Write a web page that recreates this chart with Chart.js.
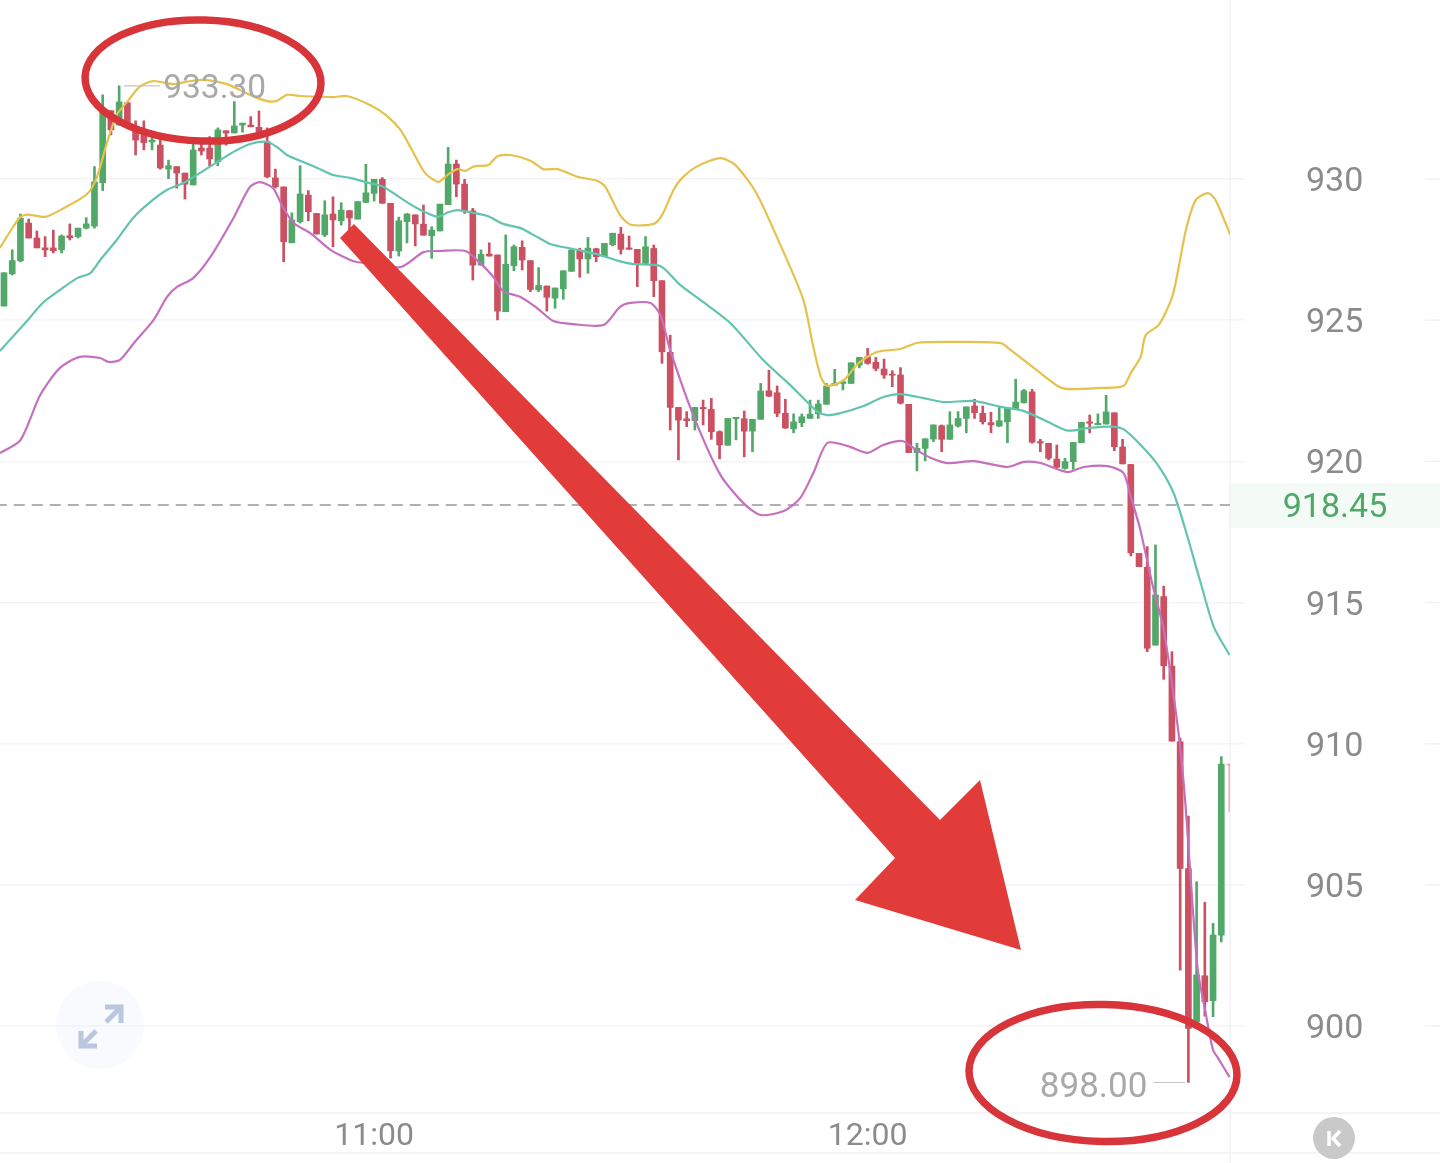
<!DOCTYPE html>
<html>
<head>
<meta charset="utf-8">
<title>K线</title>
<script src="https://cdn.jsdelivr.net/npm/chart.js@4"></script>
<style>
  html, body { margin: 0; padding: 0; background: #fff; }
  canvas { display: block; }
</style>
</head>
<body>
<canvas id="chart" width="1440" height="1163"></canvas>
<script>
// one minute candles, index 0 is the first one on screen
const opens = [925.50,926.64,927.10,928.44,927.91,927.56,927.56,927.49,927.99,927.96,928.26,928.33,929.87,932.42,931.91,932.70,931.85,931.64,931.31,931.20,
  930.35,930.44,930.21,929.79,931.10,931.10,930.61,931.71,931.63,931.91,931.91,931.83,931.32,930.04,929.72,927.74,928.49,929.43,928.78,928.02,
  928.76,928.52,928.88,928.58,929.17,929.49,929.99,929.14,927.45,928.49,928.73,928.40,927.99,928.16,929.09,930.53,929.82,928.87,926.95,927.34,
  927.31,925.30,926.93,927.58,927.11,926.07,926.21,925.78,926.11,926.73,927.46,927.17,927.53,927.25,927.67,928.05,927.56,927.51,927.01,927.54,
  926.40,923.86,921.91,921.51,921.44,921.91,921.84,921.05,920.57,921.51,921.51,921.07,921.49,922.50,922.43,921.70,921.15,921.37,921.52,921.68,
  922.02,922.70,922.76,922.76,923.41,923.70,923.51,923.27,923.09,923.06,922.02,920.31,920.46,920.79,921.26,920.78,921.25,921.52,921.96,921.70,
  921.37,921.25,921.40,921.84,922.08,922.46,920.70,920.64,920.08,919.75,919.99,920.66,921.40,921.30,921.32,921.72,920.51,919.89,916.74,916.25,
  913.49,915.21,912.75,910.07,905.58,900.15,901.78,900.90,903.22,909.28];
const highs = [926.68,927.49,928.76,928.58,928.16,927.96,928.19,928.02,928.41,928.26,928.63,930.44,932.98,932.42,933.30,932.73,932.06,932.06,931.67,931.59,
  930.67,930.44,930.21,931.32,931.27,931.50,931.81,931.71,932.74,931.98,932.21,932.41,931.81,930.35,929.72,928.80,930.47,929.59,928.78,929.23,
  929.37,929.16,928.88,929.20,930.52,929.99,930.05,929.14,928.65,928.78,928.73,929.08,928.31,929.11,931.12,930.67,929.99,928.96,927.49,927.74,
  927.31,928.02,927.66,927.81,927.11,926.86,926.21,926.14,926.75,927.49,927.55,927.93,927.55,927.72,928.08,928.29,927.98,927.51,927.96,927.66,
  926.40,924.47,921.91,921.76,921.91,922.17,922.23,921.08,921.52,921.56,921.78,921.49,922.76,923.23,922.67,922.20,921.68,921.68,922.17,922.17,
  922.76,923.26,922.88,923.49,923.68,924.00,923.68,923.62,923.21,923.32,922.02,920.64,920.80,921.29,921.29,921.76,921.76,921.93,922.20,921.96,
  921.74,921.91,921.88,922.91,922.55,922.55,920.78,920.64,920.58,920.11,920.67,921.38,921.64,921.68,922.34,921.72,920.78,919.89,916.74,916.98,
  917.04,915.58,913.26,910.20,907.44,905.11,904.38,903.64,909.54,909.28];
const lows = [925.50,926.60,927.07,927.91,927.56,927.25,927.38,927.38,927.84,927.91,928.23,928.26,929.59,931.56,931.91,931.88,930.85,931.03,931.03,930.35,
  930.01,929.68,929.29,929.79,930.85,930.47,930.47,931.20,931.63,931.66,931.85,931.66,930.04,929.68,927.07,927.74,928.44,928.52,928.05,927.96,
  927.60,928.37,928.19,928.58,929.17,929.22,929.14,927.20,927.27,927.74,927.63,928.01,927.19,928.16,929.09,929.37,928.78,926.42,926.95,927.27,
  925.01,925.30,926.75,926.78,926.01,926.01,925.32,925.42,925.74,926.73,926.52,926.66,927.07,927.25,927.63,927.34,927.51,926.19,926.99,925.83,
  923.47,921.11,920.05,921.23,921.11,921.29,920.78,920.09,920.57,920.76,920.16,920.34,921.49,922.29,921.58,921.17,921.01,921.23,921.52,921.52,
  922.02,922.70,922.53,922.76,923.31,923.44,923.21,922.94,922.64,922.03,920.31,919.66,920.02,920.70,920.34,920.78,921.21,921.01,921.52,921.32,
  921.01,921.23,920.66,921.84,922.06,920.64,920.34,920.05,919.75,919.72,919.72,920.66,921.01,921.29,921.32,920.38,919.91,916.65,916.27,913.26,
  913.49,912.28,910.09,901.98,898.00,900.15,900.35,900.33,902.98,907.58];
const closes = [926.68,927.11,928.61,927.91,927.56,927.49,927.46,927.98,927.92,928.26,928.41,929.90,932.42,931.74,932.73,931.88,931.38,931.29,931.38,930.39,
  930.47,930.21,929.82,931.03,930.99,930.71,931.74,931.63,931.88,931.98,931.85,931.66,930.08,929.73,927.78,928.55,929.47,928.84,928.05,928.73,
  928.55,928.90,928.62,929.20,929.51,929.99,929.14,927.46,928.52,928.76,928.41,928.01,928.19,929.11,930.53,929.82,928.87,926.95,927.33,927.27,
  925.32,926.98,927.60,927.13,926.09,926.23,925.81,926.14,926.75,927.49,927.17,927.55,927.25,927.72,928.08,927.51,927.51,927.01,927.60,926.40,
  923.88,921.91,921.46,921.44,921.91,921.86,921.05,920.58,921.52,921.56,921.07,921.49,922.49,922.31,921.70,921.18,921.40,921.58,921.67,922.03,
  922.67,922.76,922.82,923.49,923.68,923.47,923.29,923.06,923.05,922.06,920.31,920.46,920.80,921.29,920.78,921.29,921.52,921.93,921.72,921.40,
  921.29,921.44,921.88,922.10,922.50,920.68,920.65,920.11,919.79,919.99,920.67,921.38,921.35,921.35,921.75,920.52,919.91,916.76,916.27,913.38,
  915.27,912.76,910.09,905.58,899.92,901.81,900.86,903.22,909.28,909.24];

// band lines, read at the candle index they sit over
const upperAt = [-0.5,1.1,2,2.9,5,7.1,10.1,11.3,12.5,13.7,15,16.5,18.1,20.6,22.3,24.2,27.1,29.9,32,33.2,34.4,36,40,41.7,44.5,46.4,48.2,49.6,51.2,52.8,53.9,55.1,56.1,57.1,58.9,60,61.6,64,65.6,67.3,69.7,72.1,73.1,74.9,76.2,79,80,81.4,82.2,84.1,87.1,88.9,91.4,94.4,97.2,98.3,99.3,100.1,102.1,103.9,106.2,109,111.1,115.1,121.2,122.4,125.2,128.1,129.3,133.3,136.1,137,138.2,138.8,140.4,142.1,143.7,144.9,146.4,147.3,149.1];
const upperBand = [927.56,928.30,928.66,928.74,928.66,928.94,929.47,930.07,931.27,932.27,932.74,933.27,933.47,933.36,933.45,933.51,933.36,932.98,932.76,932.77,932.98,932.94,932.90,932.94,932.62,932.27,931.74,931.03,930.21,929.90,930.14,930.35,930.29,930.44,930.50,930.81,930.85,930.65,930.35,930.35,930.08,929.94,929.73,928.72,928.38,928.41,928.72,929.61,929.96,930.42,930.74,930.50,929.54,927.66,925.71,924.19,923.00,922.67,922.88,923.48,923.88,923.98,924.20,924.23,924.19,923.94,923.31,922.67,922.56,922.60,922.67,923.13,923.70,924.47,924.83,925.89,928.19,929.26,929.50,929.26,928.02];
const midAt = [-0.5,2.9,4.7,6.8,8.9,10.5,11.7,13.7,15.7,17.8,19.8,21.8,23.8,25.9,27.9,29.9,32,33.2,34.4,36,38.1,40,42.1,44.2,46.1,48.2,50.2,52.7,53.9,55.1,57.1,58.8,60.7,62.8,64.8,66.4,69.2,72.1,74.6,76.5,79.8,82.2,84.7,88.3,92.3,95.6,98.9,100.1,101.7,104.5,106.9,109,111.8,114.2,117.9,121.2,124,126.9,129.3,131.8,134.5,136.1,138.2,140.3,142.2,143.9,145.5,147.1,149];
const midBand = [923.91,925.01,925.61,926.07,926.49,926.67,927.13,927.84,928.62,929.19,929.61,929.86,930.21,930.60,930.96,931.24,931.32,931.13,930.85,930.65,930.39,930.14,930.04,929.87,929.73,929.33,928.97,928.66,928.81,928.90,928.80,928.69,928.41,928.26,927.95,927.70,927.52,927.34,927.11,926.99,926.92,926.25,925.71,924.90,923.59,922.70,921.76,921.64,921.71,921.96,922.28,922.38,922.24,922.10,922.14,921.93,921.78,921.40,921.09,921.18,921.23,921.14,920.58,919.87,918.88,917.32,915.69,914.13,913.14];
const lowerAt = [-0.5,2,4.4,6.8,9.2,11.7,12.7,14.1,15.9,18.2,19.8,21,23,25.1,27.9,29.9,31.1,32.7,33.9,35.2,37.2,39.7,42.1,42.9,48.2,51,53,56.1,57.9,59.5,60.7,62.8,64.8,66.8,69.2,72.9,74.9,76.2,78.6,79.8,81,83.8,87.1,89.9,92,94.8,96.8,98.4,100.1,102.6,105,106.9,109.2,111.1,112.7,114.7,117.9,122,124,126,129.3,131.3,134.2,136.1,137,138.1,139.7,141,142.8,143.6,145.1,146.1,147,147.6,149];
const lowerBand = [920.29,920.75,922.35,923.31,923.70,923.66,923.52,923.59,924.23,925.01,925.82,926.17,926.49,927.24,928.62,929.72,929.89,929.68,929.01,928.44,928.09,927.49,927.13,927.06,926.88,927.41,927.45,927.45,927.02,926.53,926.03,925.82,925.43,924.97,924.86,924.83,925.47,925.61,925.61,925.18,923.94,921.64,919.52,918.52,918.10,918.24,918.70,919.59,920.65,920.54,920.30,920.58,920.72,920.37,920.12,919.94,920.01,919.80,919.98,919.94,919.62,919.80,919.83,919.59,918.74,917.64,915.55,914.03,910.38,908.00,902.09,900.46,899.15,898.87,898.19];

const priceTicks = [900, 905, 910, 915, 920, 925, 930];
const timeTickAt = [45, 105];
const timeLabels = ['11:00', '12:00'];
const lastPrice = 918.45;
const maxPrice = 933.30, maxAt = 14;
const minPrice = 898.00, minAt = 144;

const UP = '#52a868', DOWN = '#cb5062';
const candleColors = opens.map((o, i) => closes[i] >= o ? UP : DOWN);
// the newest candle is only a faint sliver at the edge of the plot
candleColors[candleColors.length - 1] = 'rgba(203,80,98,0.35)';

function pts(xs, ys) {
  return xs.map((x, i) => ({ x: x, y: ys[i] }));
}

function bandLine(label, xs, ys, color) {
  return {
    type: 'line', label: label, data: pts(xs, ys), order: 0,
    borderColor: color, borderWidth: 2.2, pointRadius: 0, tension: 0.25, parsing: false
  };
}

const overlay = {
  id: 'overlay',
  beforeDatasetsDraw(chart) {
    const c = chart.ctx, y = chart.scales.y, a = chart.chartArea;
    c.save();
    // last price tag background
    const py = y.getPixelForValue(lastPrice);
    c.fillStyle = '#f4faf6';
    c.fillRect(a.right, py - 22, 1440 - a.right, 45);
    // frame lines
    c.strokeStyle = '#f2f2f2';
    c.lineWidth = 1.5;
    c.beginPath();
    c.moveTo(a.right, 0); c.lineTo(a.right, 1163);
    c.moveTo(0, a.bottom); c.lineTo(1440, a.bottom);
    c.moveTo(0, 1153); c.lineTo(1440, 1153);
    priceTicks.forEach(t => {
      const p = y.getPixelForValue(t);
      c.moveTo(1425, p); c.lineTo(1440, p);
    });
    c.stroke();
    // expand button
    c.fillStyle = 'rgba(238,243,251,0.4)';
    c.beginPath(); c.arc(100, 1025, 44, 0, Math.PI * 2); c.fill();
    c.strokeStyle = '#bac7df';
    c.lineWidth = 5;
    c.lineCap = 'butt';
    c.beginPath();
    c.moveTo(105, 1007); c.lineTo(121, 1007); c.lineTo(121, 1023);
    c.moveTo(121, 1007); c.lineTo(106, 1022);
    c.moveTo(81, 1031); c.lineTo(81, 1046); c.lineTo(97, 1046);
    c.moveTo(81, 1046); c.lineTo(96, 1031);
    c.stroke();
    c.restore();
  },
  afterDatasetsDraw(chart) {
    const c = chart.ctx, x = chart.scales.x, y = chart.scales.y;
    c.save();
    // high and low labels
    c.textBaseline = 'middle';
    const hy = y.getPixelForValue(maxPrice), ly = y.getPixelForValue(minPrice);
    const hx = x.getPixelForValue(maxAt), lx = x.getPixelForValue(minAt);
    c.strokeStyle = '#c4c4c4';
    c.lineWidth = 1.2;
    c.beginPath();
    c.moveTo(hx + 5, hy); c.lineTo(hx + 41, hy);
    c.moveTo(lx - 35, ly); c.lineTo(lx - 3, ly);
    c.stroke();
    c.fillStyle = '#a9a9a9';
    c.textAlign = 'left';
    c.font = '33.5px Roboto';
    c.fillText(maxPrice.toFixed(2), hx + 44, hy + 4);
    c.textAlign = 'right';
    c.font = '35px Roboto';
    c.fillText(minPrice.toFixed(2), lx - 41, ly + 5.5);
    // last price
    c.fillStyle = '#4fa868';
    c.textAlign = 'center';
    c.font = '34px Roboto';
    c.fillText(lastPrice.toFixed(2), 1335, y.getPixelForValue(lastPrice) + 3.5);
    // scroll to latest button
    c.fillStyle = '#c9c9c9';
    c.beginPath(); c.arc(1334, 1138, 21, 0, Math.PI * 2); c.fill();
    c.strokeStyle = '#fff';
    c.lineWidth = 3.5;
    c.beginPath();
    c.moveTo(1329, 1131); c.lineTo(1329, 1146);
    c.moveTo(1340, 1131); c.lineTo(1333, 1138.5); c.lineTo(1340, 1146);
    c.stroke();
    // hand drawn red marks on top of the chart
    c.strokeStyle = '#d8353b';
    c.lineWidth = 7.5;
    c.beginPath(); c.ellipse(203, 80.5, 118, 60.5, 0.03, 0, Math.PI * 2); c.stroke();
    c.beginPath(); c.ellipse(1103, 1073, 134, 68.5, 0.02, 0, Math.PI * 2); c.stroke();
    c.fillStyle = '#e23c3a';
    c.beginPath();
    c.moveTo(340, 238); c.lineTo(354, 224); c.lineTo(940, 820); c.lineTo(980, 780);
    c.lineTo(1021, 950); c.lineTo(855, 900); c.lineTo(895, 858);
    c.closePath();
    c.fill();
    c.restore();
  }
};

new Chart(document.getElementById('chart'), {
  type: 'bar',
  data: {
    datasets: [
      bandLine('BOLL UP', upperAt, upperBand, '#e5c24c'),
      bandLine('BOLL MID', midAt, midBand, '#62c4ae'),
      bandLine('BOLL LOW', lowerAt, lowerBand, '#c570bf'),
      {
        type: 'line', label: 'last', order: 3,
        data: [{ x: -1, y: lastPrice }, { x: 150, y: lastPrice }],
        borderColor: '#b0b0b0', borderWidth: 2, borderDash: [11, 7], pointRadius: 0
      },
      {
        label: 'body', order: 1, grouped: false, barThickness: 6, borderWidth: 0,
        data: opens.map((o, i) => ({ x: i, y: [o, closes[i]] })),
        backgroundColor: candleColors
      },
      {
        label: 'wick', order: 2, grouped: false, barThickness: 2, borderWidth: 0,
        data: highs.map((h, i) => ({ x: i, y: [lows[i], h] })),
        backgroundColor: candleColors
      }
    ]
  },
  options: {
    responsive: false,
    animation: false,
    layout: { padding: 0 },
    plugins: { legend: { display: false }, tooltip: { enabled: false } },
    scales: {
      x: {
        type: 'linear', min: -0.486, max: 149.06, offset: false,
        afterFit: s => { s.height = 50; s.paddingLeft = 0; s.paddingRight = 0; },
        afterBuildTicks: s => { s.ticks = timeTickAt.map(v => ({ value: v })); },
        grid: { display: false },
        border: { display: false },
        ticks: {
          autoSkip: false, maxRotation: 0, padding: -3, labelOffset: 0, color: '#8b8b8b',
          font: { family: 'Roboto', size: 32 },
          callback: v => timeLabels[timeTickAt.indexOf(v)]
        }
      },
      y: {
        position: 'right', min: 896.92, max: 936.34,
        afterFit: s => { s.width = 210; s.paddingTop = 0; s.paddingBottom = 0; },
        afterBuildTicks: s => { s.ticks = priceTicks.map(v => ({ value: v })); },
        grid: { color: '#f4f4f4', lineWidth: 1.5, tickLength: 15 },
        border: { display: false },
        ticks: {
          autoSkip: false, padding: 61, labelOffset: 3.5, crossAlign: 'center', color: '#8b8b8b',
          font: { family: 'Roboto', size: 34 },
          callback: v => String(v)
        }
      }
    }
  },
  plugins: [overlay]
});
</script>
</body>
</html>
